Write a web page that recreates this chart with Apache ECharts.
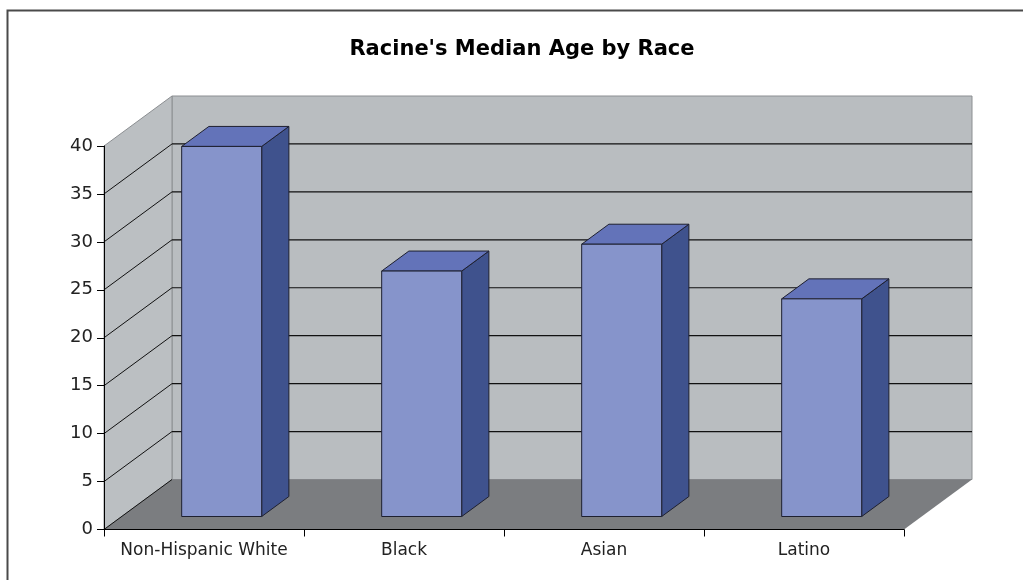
<!DOCTYPE html>
<html>
<head>
<meta charset="utf-8">
<script src="https://cdn.jsdelivr.net/npm/echarts@6/dist/echarts.min.js"></script>
<style>
html,body{margin:0;padding:0;background:#fff;}
#chart{width:1023px;height:580px;}
</style>
</head>
<body>
<div id="chart"></div>
<script>
const categories = ['Non-Hispanic White', 'Black', 'Asian', 'Latino'];
const medianAge = [38.6, 25.6, 28.4, 22.7];
const yTicks = [0, 5, 10, 15, 20, 25, 30, 35, 40];

const DX = 68, DY = -50;       // depth offset of the 3D box (style)
const F0 = 0.26, F1 = 0.66;    // bar depth position (style)

const chart = echarts.init(document.getElementById('chart'));

function renderWalls(params, api) {
  const cs = params.coordSys;
  const x0 = cs.x, x1 = cs.x + cs.width;
  const yMin = yTicks[0], yMax = yTicks[yTicks.length - 1];
  const yB = api.coord([0, yMin])[1];
  const yT = api.coord([0, yMax])[1];
  const children = [];
  children.push({
    type: 'polygon',
    shape: { points: [[x0 + DX, yT + DY], [x1 + DX, yT + DY], [x1 + DX, yB + DY], [x0 + DX, yB + DY]] },
    style: { fill: '#B9BDC0', stroke: '#8C8F92', lineWidth: 1 }
  });
  children.push({
    type: 'polygon',
    shape: { points: [[x0, yT], [x0 + DX, yT + DY], [x0 + DX, yB + DY], [x0, yB]] },
    style: { fill: '#BBBFC2', stroke: '#8C8F92', lineWidth: 1 }
  });
  children.push({
    type: 'polygon',
    shape: { points: [[x0, yB], [x0 + DX, yB + DY], [x1 + DX, yB + DY], [x1, yB]] },
    style: { fill: '#7B7D80', stroke: null }
  });
  yTicks.forEach(function (v) {
    if (v === yMax) return;
    const y = api.coord([0, v])[1];
    children.push({
      type: 'line',
      shape: { x1: x0, y1: y, x2: x0 + DX, y2: y + DY },
      style: { stroke: '#111', lineWidth: 1 }
    });
    if (v !== yMin) {
      children.push({
        type: 'line',
        shape: { x1: x0 + DX, y1: y + DY, x2: x1 + DX, y2: y + DY },
        style: { stroke: '#111', lineWidth: 1.2 }
      });
    }
  });
  return { type: 'group', children: children };
}

function renderBar(params, api) {
  const idx = api.value(0), v = api.value(1);
  const top = api.coord([idx, v]);
  const base = api.coord([idx, 0]);
  const w = api.size([1, 0])[0] * 0.4;
  const ax = DX * F0, ay = DY * F0, bx = DX * F1, by = DY * F1;
  const L = top[0] - w / 2, R = top[0] + w / 2;
  const yt = top[1], yb = base[1];
  const st = { stroke: '#1E2030', lineWidth: 1, lineJoin: 'round' };
  return {
    type: 'group',
    children: [
      { type: 'polygon', shape: { points: [[R + ax, yt + ay], [R + bx, yt + by], [R + bx, yb + by], [R + ax, yb + ay]] },
        style: Object.assign({ fill: '#3F528D' }, st) },
      { type: 'polygon', shape: { points: [[L + ax, yt + ay], [R + ax, yt + ay], [R + bx, yt + by], [L + bx, yt + by]] },
        style: Object.assign({ fill: '#6373B9' }, st) },
      { type: 'polygon', shape: { points: [[L + ax, yt + ay], [R + ax, yt + ay], [R + ax, yb + ay], [L + ax, yb + ay]] },
        style: Object.assign({ fill: '#8694CB' }, st) }
    ]
  };
}

const option = {
  backgroundColor: '#ffffff',
  animation: false,
  title: {
    text: "Racine's Median Age by Race",
    left: 517,
    textAlign: 'center',
    top: 34,
    textStyle: { fontFamily: 'DejaVu Sans', fontWeight: 'bold', fontSize: 21, color: '#000' }
  },
  graphic: [{
    type: 'rect',
    shape: { x: 7.5, y: 10.5, width: 1200, height: 800 },
    style: { fill: null, stroke: '#4A4A4A', lineWidth: 2 },
    z: 100
  }],
  grid: { left: 104, right: 119, top: 146, bottom: 50.5, outerBoundsMode: 'none' },
  xAxis: {
    type: 'category',
    data: categories,
    boundaryGap: true,
    z: 10,
    axisLine: { lineStyle: { color: '#000', width: 1 } },
    axisTick: { show: true, interval: 0, length: 7, lineStyle: { color: '#000' } },
    axisLabel: { interval: 0, margin: 13, fontFamily: 'DejaVu Sans', fontSize: 17, color: '#222' },
    splitLine: { show: false }
  },
  yAxis: {
    type: 'value',
    min: 0, max: 40, interval: 5,
    z: 10,
    axisLine: { show: true, lineStyle: { color: '#000', width: 1 } },
    axisTick: { show: true, length: 7, lineStyle: { color: '#000' } },
    axisLabel: { margin: 11, fontFamily: 'DejaVu Sans', fontSize: 18, color: '#222' },
    splitLine: { show: false }
  },
  series: [
    { type: 'custom', renderItem: renderWalls, data: [[0, 0]], z: 1, silent: true },
    { type: 'custom', renderItem: renderBar, data: categories.map(function (c, i) { return [i, medianAge[i]]; }),
      encode: { x: 0, y: 1 }, z: 2 }
  ]
};
chart.setOption(option);
</script>
</body>
</html>
